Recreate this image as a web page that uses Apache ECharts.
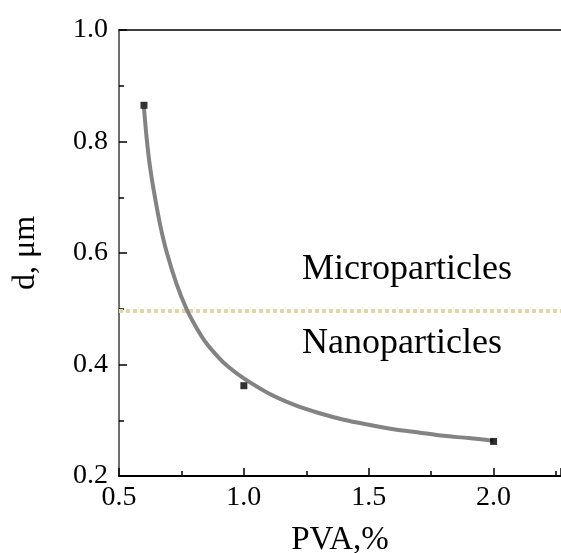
<!DOCTYPE html>
<html>
<head>
<meta charset="utf-8">
<script src="https://cdn.jsdelivr.net/npm/echarts@6/dist/echarts.min.js"></script>
<style>
  html, body { margin: 0; padding: 0; background: #fff; }
  #chart { width: 561px; height: 553px; }
</style>
</head>
<body>
<div id="chart"></div>
<script>
// measured points (PVA %, d um)
var pvaValues = [0.6, 1.0, 2.0];
var dValues = [0.865, 0.362, 0.262];

// fitted curve
var fitPva = [0.6, 0.611, 0.624, 0.64, 0.665, 0.69, 0.73, 0.77, 0.81, 0.85, 0.9, 0.94, 1.0, 1.1, 1.2, 1.3, 1.4, 1.5, 1.6, 1.7, 1.8, 1.9, 2.0];
var fitD   = [0.86, 0.805, 0.755, 0.71, 0.65, 0.603, 0.545, 0.50, 0.466, 0.438, 0.412, 0.395, 0.375, 0.348, 0.328, 0.313, 0.301, 0.292, 0.284, 0.278, 0.272, 0.268, 0.263];

// micro / nano boundary
var boundaryD = 0.496;
var boundaryPva = [0.5, 2.27];

var regionLabels = ['Microparticles', 'Nanoparticles'];

var font = 'Liberation Serif, Times New Roman, serif';

var myChart = echarts.init(document.getElementById('chart'));

var fitData = fitPva.map(function (x, i) { return [x, fitD[i]]; });
var pointData = pvaValues.map(function (x, i) { return [x, dValues[i]]; });
var boundaryData = boundaryPva.map(function (x) { return [x, boundaryD]; });

var option = {
    animation: false,
    backgroundColor: '#fff',
    grid: { left: 119, top: 30, right: 0, bottom: 77, containLabel: false, outerBoundsMode: 'none' },
    xAxis: [{
        type: 'value',
        min: 0.5,
        max: 2.27,
        interval: 0.5,
        name: 'PVA,%',
        nameLocation: 'middle',
        nameGap: 48,
        nameTextStyle: { fontFamily: font, fontSize: 33, color: '#000' },
        axisLine: { lineStyle: { color: '#000', width: 2 } },
        axisTick: { inside: true, length: 8, lineStyle: { color: '#000', width: 1.5 } },
        minorTick: { show: true, splitNumber: 2, length: 5, lineStyle: { color: '#000', width: 1.5 } },
        splitLine: { show: false },
        axisLabel: {
            fontFamily: font, fontSize: 28, color: '#000', margin: 8,
            showMaxLabel: false,
            formatter: function (v) { return (Math.abs(v * 2 - Math.round(v * 2)) < 1e-6) ? v.toFixed(1) : ''; }
        }
    }, {
        type: 'value',
        position: 'top',
        min: 0.5,
        max: 2.27,
        axisLine: { show: true, lineStyle: { color: '#000', width: 1.5 } },
        axisTick: { show: false },
        axisLabel: { show: false },
        splitLine: { show: false }
    }],
    yAxis: {
        type: 'value',
        min: 0.2,
        max: 1.0,
        interval: 0.2,
        name: 'd, \u03bcm',
        nameLocation: 'middle',
        nameGap: 77,
        nameTextStyle: { fontFamily: font, fontSize: 32, color: '#000' },
        axisLine: { lineStyle: { color: '#6e6e6e', width: 2 } },
        axisTick: { inside: true, length: 8, lineStyle: { color: '#000', width: 1.5 } },
        minorTick: { show: true, splitNumber: 2, length: 5, lineStyle: { color: '#000', width: 1.5 } },
        splitLine: { show: false },
        axisLabel: {
            fontFamily: font, fontSize: 28, color: '#000', margin: 11,
            formatter: function (v) { return v.toFixed(1); }
        }
    },
    series: [
        {
            name: 'boundary',
            type: 'line',
            data: boundaryData,
            symbol: 'none',
            silent: true,
            lineStyle: { color: '#e2d6a2', width: 4, type: [4, 3], cap: 'butt' },
            z: 1
        },
        {
            name: 'fit',
            type: 'line',
            data: fitData,
            smooth: 0.3,
            symbol: 'none',
            lineStyle: { color: '#838383', width: 4 },
            z: 2
        },
        {
            name: 'd',
            type: 'scatter',
            data: pointData,
            symbol: 'rect',
            symbolSize: 7,
            itemStyle: { color: '#000' },
            z: 3
        }
    ],
    graphic: [
        {
            type: 'text', left: 302, top: 252,
            style: { text: regionLabels[0], font: '36px ' + font, fill: '#000' }
        },
        {
            type: 'text', left: 302, top: 326,
            style: { text: regionLabels[1], font: '36px ' + font, fill: '#000' }
        }
    ]
};

myChart.setOption(option, true);
</script>
</body>
</html>
